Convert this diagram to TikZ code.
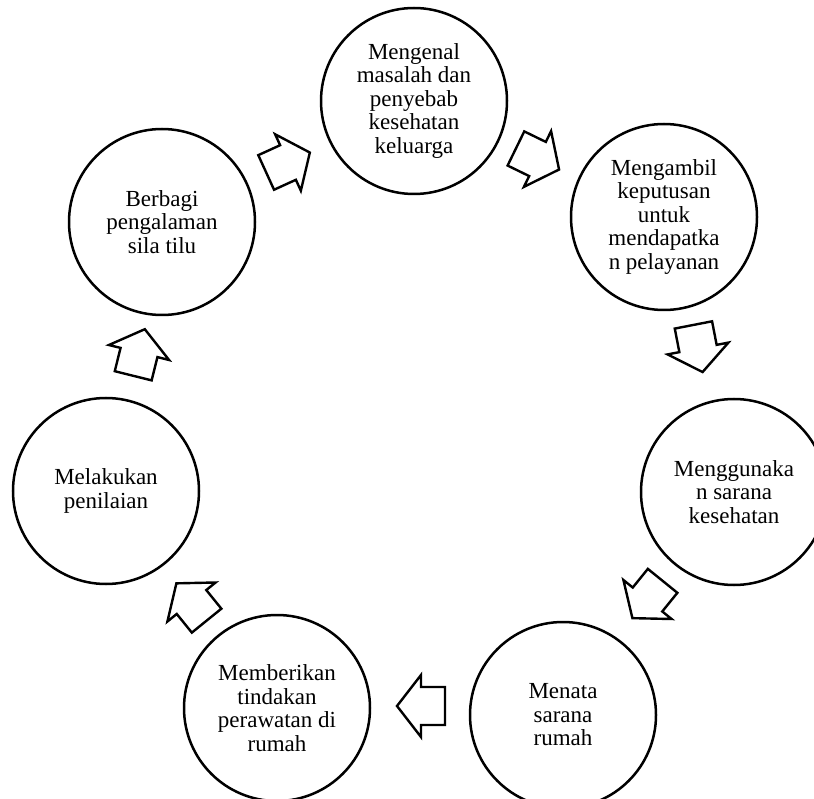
\documentclass[tikz,border=0pt]{standalone}
\usepackage{fontspec}
\setmainfont{Liberation Serif}
\begin{document}
\begin{tikzpicture}[x=1pt,y=-1pt,
  stage/.style={circle,draw,line width=2.5pt,minimum size=186pt,inner sep=0pt,
    align=center,font=\fontsize{23}{23.5}\selectfont},
  arrowline/.style={draw,line width=2.4pt,line join=miter,fill=white},
  barrow/.pic={\path[arrowline] (-24,-19) -- (0,-19) -- (0,-31) -- (24,0) -- (0,31) -- (0,19) -- (-24,19) -- cycle;}]
\useasboundingbox (0,0) rectangle (814,799);
\clip (0,0) rectangle (814,799);
\node[stage] (c1) at (414,101) {Mengenal\\masalah dan\\penyebab\\kesehatan\\keluarga};
\node[stage] (c2) at (664,217) {Mengambil\\keputusan\\untuk\\mendapatka\\n pelayanan};
\node[stage] (c3) at (734,492) {Menggunaka\\n sarana\\kesehatan};
\node[stage] (c4) at (563,715) {Menata\\sarana\\rumah};
\node[stage] (c5) at (277,708) {Memberikan\\tindakan\\perawatan di\\rumah};
\node[stage] (c6) at (106,491) {Melakukan\\penilaian};
\node[stage] (c7) at (162,222) {Berbagi\\pengalaman\\sila tilu};
\pic[rotate=24.5] (a1) at (288,162.5) {barrow};
\pic[rotate=-26] (a2) at (537.5,159) {barrow};
\pic[rotate=-79] (a3) at (698,348.5) {barrow};
\pic[rotate=-129] (a4) at (647.5,599.5) {barrow};
\pic[rotate=180] (a5) at (421,706) {barrow};
\pic[rotate=129] (a6) at (191.5,602) {barrow};
\pic[rotate=76] (a7) at (139,352.5) {barrow};
\end{tikzpicture}
\end{document}
